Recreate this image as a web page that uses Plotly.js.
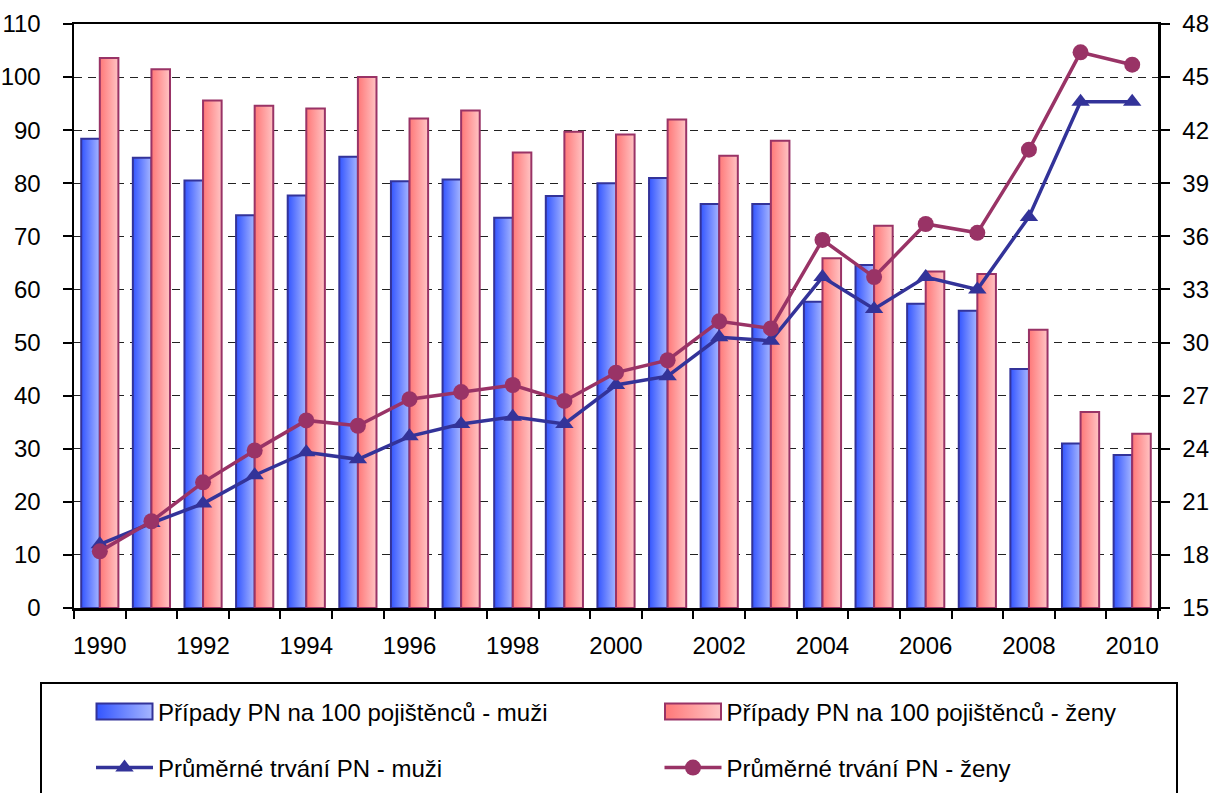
<!DOCTYPE html>
<html>
<head>
<meta charset="utf-8">
<script src="https://cdn.plot.ly/plotly-3.0.1.min.js"></script>
<style>
  html, body { margin: 0; padding: 0; background: #fff; }
  #chart { width: 1210px; height: 793px; }
</style>
</head>
<body>
<div id="chart"></div>
<script>
const years = ['1990','1991','1992','1993','1994','1995','1996','1997','1998','1999','2000',
               '2001','2002','2003','2004','2005','2006','2007','2008','2009','2010'];
const yearLabels = ['1990','','1992','','1994','','1996','','1998','','2000',
                    '','2002','','2004','','2006','','2008','','2010'];
const casesMen   = [88.4, 84.8, 80.5, 74.0, 77.7, 85.0, 80.4, 80.7, 73.5, 77.6, 80.0,
                    81.0, 76.1, 76.1, 57.7, 64.6, 57.3, 56.0, 45.0, 31.0, 28.8];
const casesWomen = [103.6, 101.5, 95.6, 94.6, 94.1, 100.0, 92.2, 93.7, 85.8, 89.7, 89.2,
                    92.0, 85.2, 88.0, 65.9, 72.0, 63.4, 62.9, 52.4, 36.9, 32.8];
const durMen     = [18.6, 19.8, 20.9, 22.5, 23.8, 23.4, 24.7, 25.4, 25.8, 25.4, 27.6,
                    28.1, 30.3, 30.1, 33.7, 31.9, 33.7, 33.0, 37.1, 43.6, 43.6];
const durWomen   = [18.2, 19.9, 22.1, 23.9, 25.6, 25.3, 26.8, 27.2, 27.6, 26.7, 28.3,
                    29.0, 31.2, 30.8, 35.8, 33.7, 36.7, 36.2, 40.9, 46.4, 45.7];
const names = ['Případy PN na 100 pojištěnců - muži', 'Případy PN na 100 pojištěnců - ženy',
               'Průměrné trvání PN - muži', 'Průměrné trvání PN - ženy'];
const leftTicks  = [0,10,20,30,40,50,60,70,80,90,100,110];
const rightTicks = [15,18,21,24,27,30,33,36,39,42,45,48];

const FONT = '"Liberation Sans", Arial, sans-serif';
const BLUE = '#333399', PLUM = '#993366';

const traces = [
  { type: 'bar', x: years, y: casesMen, name: names[0], legend: 'legend',
    marker: { color: '#7090ff', line: { color: BLUE, width: 2 } } },
  { type: 'bar', x: years, y: casesWomen, name: names[1], legend: 'legend2',
    marker: { color: '#ffa0a0', line: { color: PLUM, width: 2 } } },
  { type: 'scatter', mode: 'lines+markers', x: years, y: durMen, yaxis: 'y2', name: names[2],
    legend: 'legend3',
    line: { color: BLUE, width: 3.5 }, marker: { symbol: 'triangle-up', size: 16, color: BLUE } },
  { type: 'scatter', mode: 'lines+markers', x: years, y: durWomen, yaxis: 'y2', name: names[3],
    legend: 'legend4',
    line: { color: PLUM, width: 3.5 }, marker: { symbol: 'circle', size: 16, color: PLUM } }
];

const L = 74, R = 1158, T = 24, B = 608;
const pw = R - L, ph = B - T;
const px2x = p => (p - L) / pw;
const px2y = p => (B - p) / ph;

function legendAt(xpx, ypx) {
  return {
    orientation: 'h', x: px2x(xpx), xanchor: 'left', y: px2y(ypx), yanchor: 'middle',
    itemwidth: 57, bgcolor: 'rgba(0,0,0,0)', borderwidth: 0,
    font: { family: FONT, size: 24, color: '#000' }
  };
}
const tickFont = { family: FONT, size: 24, color: '#000' };

const layout = {
  width: 1210, height: 793,
  margin: { l: L, r: 1210 - R, t: T, b: 793 - B, pad: 0, autoexpand: false },
  paper_bgcolor: '#fff', plot_bgcolor: '#fff',
  font: { family: FONT, size: 23, color: '#000' },
  barmode: 'group', bargap: 0.28, bargroupgap: 0,
  showlegend: true,
  xaxis: {
    type: 'category', tickmode: 'array', tickvals: years, ticktext: yearLabels, tickangle: 0,
    range: [-0.5, years.length - 0.5],
    tickson: 'boundaries', ticks: 'outside', ticklen: 8, tickwidth: 2, tickcolor: '#000',
    showline: true, linecolor: '#000', linewidth: 2.5, mirror: true, automargin: false,
    showgrid: false, zeroline: false, ticklabelstandoff: 15, tickfont: tickFont
  },
  yaxis: {
    range: [0, 110], tickmode: 'array', tickvals: leftTicks, automargin: false,
    ticks: 'outside', ticklen: 9, tickwidth: 2, tickcolor: '#000',
    showline: true, linecolor: '#000', linewidth: 2.5,
    showgrid: true, gridcolor: '#222', gridwidth: 1, griddash: '8px,6px',
    zeroline: false, ticklabelstandoff: 17, tickfont: tickFont
  },
  yaxis2: {
    range: [15, 48], tickmode: 'array', tickvals: rightTicks, overlaying: 'y', side: 'right',
    ticks: 'outside', ticklen: 9, tickwidth: 2, tickcolor: '#000', automargin: false,
    showline: true, linecolor: '#000', linewidth: 2.5,
    showgrid: false, zeroline: false, ticklabelstandoff: 8, tickfont: tickFont
  },
  legend:  legendAt(91, 712),
  legend2: legendAt(659.5, 712),
  legend3: legendAt(91, 768),
  legend4: legendAt(659.5, 768),
  shapes: [{
    type: 'rect', xref: 'paper', yref: 'paper',
    x0: px2x(41), x1: px2x(1177), y0: px2y(683), y1: px2y(810),
    line: { color: '#000', width: 2 }, fillcolor: 'rgba(0,0,0,0)', layer: 'above'
  }]
};

function addGradients(gd) {
  const svg = gd.querySelector('svg.main-svg');
  if (!svg) return;
  const ns = 'http://www.w3.org/2000/svg';
  let defs = svg.querySelector('defs');
  if (!defs) { defs = document.createElementNS(ns, 'defs'); svg.insertBefore(defs, svg.firstChild); }
  const mk = (id, c1, c2) => {
    if (document.getElementById(id)) return;
    const g = document.createElementNS(ns, 'linearGradient');
    g.setAttribute('id', id); g.setAttribute('x1', '0'); g.setAttribute('x2', '1');
    g.setAttribute('y1', '0'); g.setAttribute('y2', '0');
    [[0, c1], [1, c2]].forEach(([o, c]) => {
      const s = document.createElementNS(ns, 'stop');
      s.setAttribute('offset', o); s.setAttribute('stop-color', c);
      g.appendChild(s);
    });
    defs.appendChild(g);
  };
  mk('gradBlue', '#3355ff', '#a6b6ff');
  mk('gradPink', '#ff7878', '#ffc4c4');
  const fills = ['url(#gradBlue)', 'url(#gradPink)'];
  gd.querySelectorAll('.barlayer .trace').forEach((t, i) => {
    t.querySelectorAll('path').forEach(p => { p.style.fill = fills[i % 2]; });
  });
  gd.querySelectorAll('.legendpoints path').forEach(p => {
    const d = (p.getAttribute('d') || '').replace(/\s/g, '');
    if (d === 'M6,6H-6V-6H6Z' || d === 'M28,8H-28V-8H28Z') {
      p.setAttribute('d', 'M28,8H-28V-8H28Z');
      let tr = p.parentNode;
      while (tr && !(tr.classList && tr.classList.contains('traces'))) tr = tr.parentNode;
      const txt = tr ? tr.textContent : '';
      p.style.fill = txt.indexOf('muži') >= 0 ? 'url(#gradBlue)' : 'url(#gradPink)';
    }
  });
}

const gd = document.getElementById('chart');
Plotly.newPlot(gd, traces, layout, { staticPlot: true, displayModeBar: false })
  .then(() => {
    addGradients(gd);
    gd.on('plotly_afterplot', () => addGradients(gd));
    setTimeout(() => addGradients(gd), 50);
  });
</script>
</body>
</html>
